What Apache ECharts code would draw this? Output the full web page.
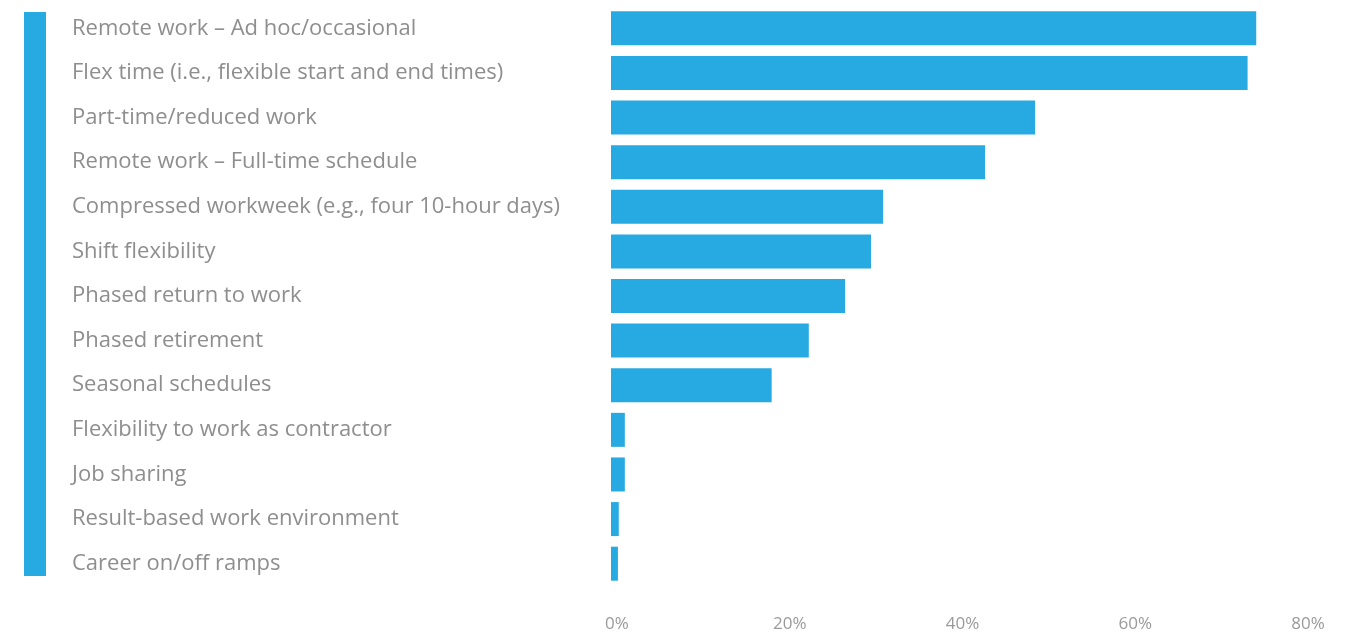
<!DOCTYPE html>
<html><head><meta charset="utf-8">
<script src="https://cdn.jsdelivr.net/npm/echarts@6/dist/echarts.min.js"></script>
<style>html,body{margin:0;padding:0;background:#fff}#c{width:1355px;height:633px}</style>
</head><body><div id="c"></div>
<script>
const categories = [
  "Remote work – Ad hoc/occasional",
  "Flex time (i.e., flexible start and end times)",
  "Part-time/reduced work",
  "Remote work – Full-time schedule",
  "Compressed workweek (e.g., four 10-hour days)",
  "Shift flexibility",
  "Phased return to work",
  "Phased retirement",
  "Seasonal schedules",
  "Flexibility to work as contractor",
  "Job sharing",
  "Result-based work environment",
  "Career on/off ramps"
];
const values = [74.7, 73.7, 49.1, 43.3, 31.5, 30.1, 27.1, 22.9, 18.6, 1.6, 1.6, 0.9, 0.8];
const tickValues = [0, 20, 40, 60, 80];

const chart = echarts.init(document.getElementById('c'));
chart.setOption({
  animation: false,
  grid: { left: 611, right: 53, top: 6, height: 580 },
  graphic: [{ type: 'rect', left: 24, top: 12, shape: { width: 22, height: 564 }, style: { fill: '#27aae1' } }],
  xAxis: {
    type: 'value', min: 0, max: 80, interval: 20,
    splitLine: { show: false }, axisLine: { show: false }, axisTick: { show: false },
    axisLabel: {
      color: '#9a9a9a', fontFamily: 'Open Sans', fontSize: 17, margin: 30,
      padding: [0, 0, 0, 12],
      formatter: v => tickValues.includes(v) ? v + '%' : ''
    }
  },
  yAxis: {
    type: 'category', data: categories, inverse: true,
    axisLine: { show: false }, axisTick: { show: false },
    axisLabel: { align: 'left', margin: 539, color: '#8e8e8e', fontFamily: 'Open Sans', fontSize: 22 }
  },
  series: [{
    type: 'bar', data: values, barWidth: 34,
    itemStyle: { color: '#27aae1' }
  }]
});
</script></body></html>
